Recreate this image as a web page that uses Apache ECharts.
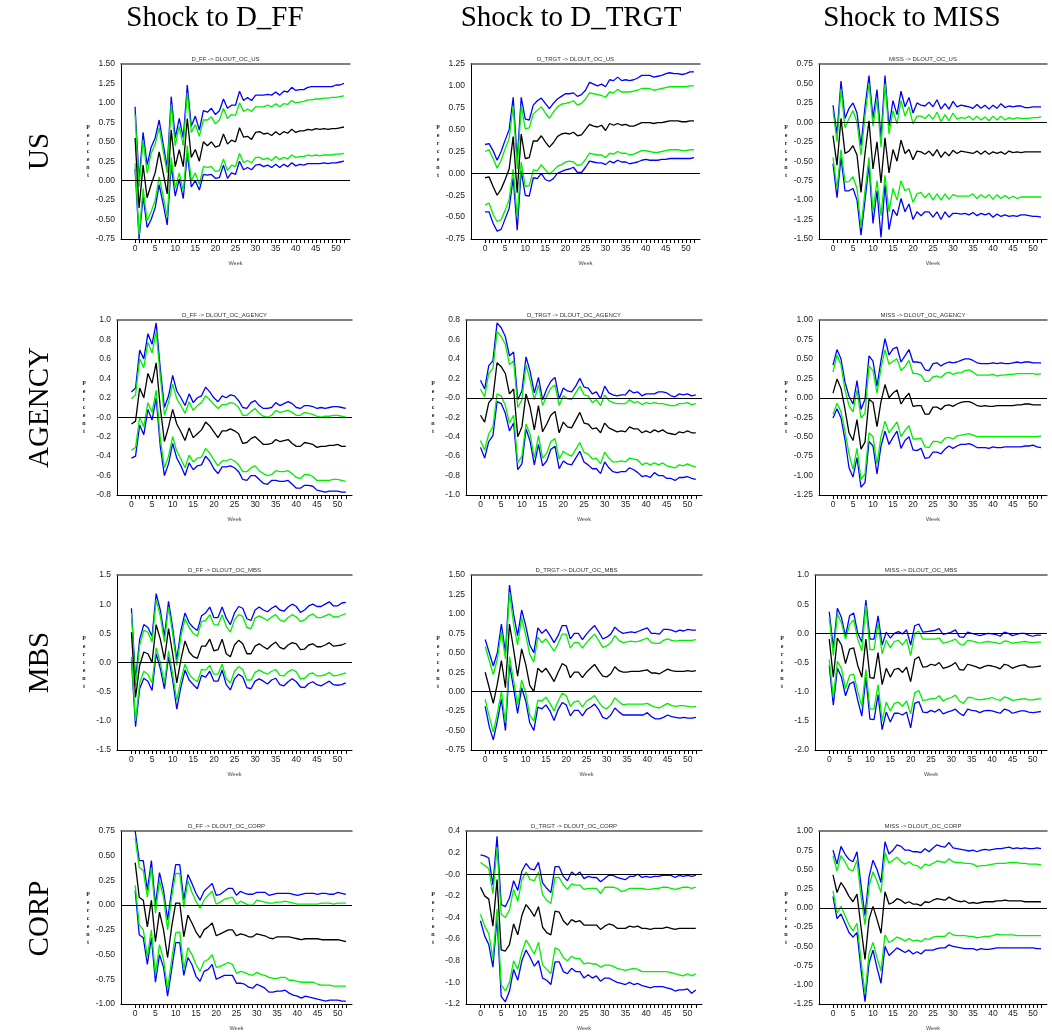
<!DOCTYPE html>
<html><head><meta charset="utf-8">
<script src="https://cdn.jsdelivr.net/npm/echarts@6/dist/echarts.min.js"></script>
<style>html,body{margin:0;padding:0;background:#fff}#c{width:1052px;height:1032px}</style>
</head><body><div id="c"></div>
<script>
const weeks = [0,1,2,3,4,5,6,7,8,9,10,11,12,13,14,15,16,17,18,19,20,21,22,23,24,25,26,27,28,29,30,31,32,33,34,35,36,37,38,39,40,41,42,43,44,45,46,47,48,49,50,51,52];
const xLabelWeeks = [0,5,10,15,20,25,30,35,40,45,50];
const shocks = ['Shock to D_FF','Shock to D_TRGT','Shock to MISS'];
const responses = ['US','AGENCY','MBS','CORP'];
const panelTitles = ['D_FF -> DLOUT_OC_US','D_TRGT -> DLOUT_OC_US','MISS -> DLOUT_OC_US',
 'D_FF -> DLOUT_OC_AGENCY','D_TRGT -> DLOUT_OC_AGENCY','MISS -> DLOUT_OC_AGENCY',
 'D_FF -> DLOUT_OC_MBS','D_TRGT -> DLOUT_OC_MBS','MISS -> DLOUT_OC_MBS',
 'D_FF -> DLOUT_OC_CORP','D_TRGT -> DLOUT_OC_CORP','MISS -> DLOUT_OC_CORP'];
// y-axis ticks: [min, max, step, decimals, zero label]
const yTicks = [[-0.75,1.5,0.25,2,'0.00'],[-0.75,1.25,0.25,2,'0.00'],[-1.5,0.75,0.25,2,'0.00'],
 [-0.8,1.0,0.2,1,'-0.0'],[-1.0,0.8,0.2,1,'-0.0'],[-1.25,1.0,0.25,2,'0.00'],
 [-1.5,1.5,0.5,1,'0.0'],[-0.75,1.5,0.25,2,'0.00'],[-2.0,1.0,0.5,1,'0.0'],
 [-1.0,0.75,0.25,2,'0.00'],[-1.2,0.4,0.2,1,'-0.0'],[-1.25,1.0,0.25,2,'0.00']];

// ---- US / D_FF
const us_ff_mid=[0.55,-0.35,0.2,-0.22,-0.05,0.1,0.37,0.1,-0.17,0.65,0.18,0.4,0.18,0.8,0.3,0.4,0.25,0.5,0.45,0.5,0.43,0.45,0.6,0.47,0.52,0.5,0.68,0.56,0.57,0.53,0.62,0.63,0.6,0.61,0.58,0.63,0.59,0.63,0.61,0.66,0.62,0.64,0.64,0.66,0.65,0.67,0.66,0.67,0.66,0.67,0.67,0.68,0.69];
const us_ff_bhi=[0.95,0.0,0.62,0.2,0.43,0.55,0.78,0.47,0.17,1.08,0.55,0.8,0.55,1.23,0.7,0.83,0.65,0.9,0.88,0.93,0.85,0.9,1.05,0.93,0.97,0.97,1.15,1.03,1.07,1.03,1.1,1.1,1.1,1.11,1.1,1.14,1.1,1.15,1.14,1.2,1.16,1.17,1.17,1.2,1.21,1.21,1.21,1.21,1.21,1.21,1.23,1.23,1.25];
const us_ff_ghi=[0.85,-0.08,0.52,0.1,0.35,0.47,0.68,0.38,0.1,0.98,0.45,0.7,0.45,1.13,0.62,0.72,0.57,0.78,0.78,0.82,0.73,0.78,0.93,0.8,0.85,0.84,1.0,0.89,0.92,0.89,0.95,0.95,0.95,0.97,0.95,0.99,0.95,0.99,0.98,1.03,1.0,1.01,1.02,1.04,1.04,1.05,1.05,1.06,1.06,1.07,1.07,1.08,1.09];
const us_ff_glo=[0.22,-0.7,-0.1,-0.52,-0.4,-0.25,0.05,-0.2,-0.47,0.3,-0.1,0.1,-0.13,0.45,0.0,0.1,-0.05,0.18,0.17,0.18,0.12,0.13,0.28,0.13,0.2,0.18,0.35,0.23,0.26,0.23,0.3,0.3,0.27,0.29,0.26,0.31,0.27,0.3,0.28,0.33,0.3,0.31,0.31,0.33,0.32,0.33,0.32,0.33,0.33,0.33,0.34,0.34,0.35];
const us_ff_blo=[0.15,-0.75,-0.2,-0.6,-0.5,-0.35,-0.05,-0.3,-0.57,0.2,-0.2,0.02,-0.23,0.35,-0.08,0.0,-0.12,0.08,0.07,0.08,0.03,0.04,0.2,0.03,0.1,0.08,0.25,0.14,0.17,0.14,0.2,0.21,0.18,0.2,0.17,0.21,0.17,0.21,0.18,0.23,0.19,0.21,0.2,0.22,0.22,0.22,0.22,0.23,0.22,0.23,0.23,0.24,0.25];
// ---- US / D_TRGT
const us_tr_mid=[-0.05,-0.04,-0.15,-0.25,-0.18,-0.07,0.05,0.42,-0.22,0.45,0.17,0.18,0.37,0.37,0.43,0.36,0.3,0.35,0.42,0.45,0.46,0.45,0.47,0.43,0.44,0.5,0.56,0.54,0.53,0.55,0.49,0.57,0.55,0.57,0.55,0.56,0.54,0.54,0.56,0.58,0.58,0.58,0.57,0.58,0.58,0.59,0.6,0.6,0.6,0.59,0.59,0.6,0.6];
const us_tr_bhi=[0.33,0.34,0.26,0.15,0.25,0.38,0.5,0.87,0.15,0.87,0.62,0.61,0.78,0.83,0.86,0.8,0.74,0.8,0.85,0.88,0.91,0.91,0.92,0.88,0.9,0.95,1.04,1.02,1.0,1.02,0.99,1.07,1.06,1.1,1.06,1.07,1.06,1.07,1.09,1.12,1.12,1.12,1.1,1.11,1.12,1.14,1.15,1.14,1.14,1.13,1.14,1.16,1.16];
const us_tr_ghi=[0.25,0.27,0.17,0.06,0.15,0.28,0.4,0.77,0.05,0.77,0.51,0.52,0.68,0.72,0.76,0.69,0.63,0.7,0.76,0.79,0.8,0.81,0.83,0.78,0.8,0.85,0.92,0.91,0.9,0.89,0.87,0.93,0.92,0.96,0.93,0.93,0.93,0.94,0.95,0.97,0.97,0.97,0.95,0.96,0.97,0.98,0.99,0.99,0.99,0.99,0.99,1.0,1.0];
const us_tr_glo=[-0.36,-0.34,-0.47,-0.55,-0.53,-0.42,-0.3,0.05,-0.5,0.13,-0.15,-0.14,0.04,0.03,0.1,0.04,-0.01,0.03,0.08,0.1,0.13,0.14,0.13,0.09,0.1,0.16,0.23,0.22,0.21,0.21,0.18,0.23,0.22,0.25,0.23,0.23,0.21,0.22,0.24,0.26,0.26,0.25,0.24,0.24,0.25,0.26,0.27,0.27,0.27,0.26,0.26,0.27,0.27];
const us_tr_blo=[-0.44,-0.44,-0.57,-0.66,-0.64,-0.52,-0.4,-0.05,-0.65,0.03,-0.25,-0.26,-0.05,-0.06,0.0,-0.07,-0.09,-0.06,0.0,0.02,0.04,0.05,0.07,0.01,0.01,0.07,0.14,0.13,0.12,0.12,0.1,0.14,0.12,0.15,0.13,0.13,0.11,0.12,0.13,0.15,0.16,0.15,0.15,0.15,0.16,0.16,0.17,0.17,0.17,0.17,0.17,0.17,0.18];
// ---- US / MISS
const us_ms_mid=[-0.17,-0.55,0.05,-0.4,-0.37,-0.3,-0.42,-0.9,-0.4,0.02,-0.6,-0.25,-0.78,-0.2,-0.65,-0.35,-0.5,-0.23,-0.4,-0.35,-0.48,-0.37,-0.38,-0.41,-0.37,-0.43,-0.35,-0.45,-0.38,-0.43,-0.36,-0.4,-0.37,-0.38,-0.39,-0.4,-0.37,-0.41,-0.37,-0.41,-0.38,-0.4,-0.38,-0.41,-0.37,-0.39,-0.38,-0.39,-0.38,-0.38,-0.38,-0.38,-0.38];
const us_ms_bhi=[0.22,-0.15,0.53,0.05,0.18,0.25,0.12,-0.3,0.2,0.6,0.05,0.42,-0.2,0.6,-0.05,0.28,0.1,0.4,0.2,0.32,0.12,0.25,0.22,0.21,0.26,0.2,0.29,0.17,0.24,0.17,0.27,0.2,0.22,0.21,0.2,0.18,0.23,0.18,0.22,0.17,0.22,0.18,0.24,0.19,0.21,0.2,0.21,0.21,0.19,0.19,0.2,0.2,0.2];
const us_ms_ghi=[0.15,-0.25,0.43,-0.07,0.05,0.15,0.0,-0.42,0.08,0.5,-0.05,0.3,-0.32,0.5,-0.15,0.15,-0.02,0.28,0.08,0.2,-0.02,0.08,0.08,0.05,0.1,0.04,0.13,0.01,0.1,0.02,0.12,0.04,0.06,0.05,0.08,0.03,0.08,0.03,0.07,0.02,0.08,0.03,0.08,0.03,0.06,0.04,0.06,0.05,0.05,0.05,0.06,0.06,0.07];
const us_ms_glo=[-0.45,-0.85,-0.35,-0.77,-0.76,-0.7,-0.85,-1.35,-0.88,-0.45,-1.15,-0.75,-1.2,-0.68,-1.15,-0.85,-1.0,-0.75,-0.88,-0.85,-1.03,-0.92,-0.9,-0.97,-0.91,-1.0,-0.92,-1.0,-0.92,-0.99,-0.93,-0.95,-0.95,-0.95,-0.95,-0.92,-0.98,-0.93,-0.97,-0.93,-0.99,-0.93,-0.98,-0.94,-0.98,-0.95,-0.98,-0.96,-0.96,-0.96,-0.96,-0.96,-0.96];
const us_ms_blo=[-0.53,-0.97,-0.45,-0.88,-0.88,-0.85,-1.0,-1.45,-1.0,-0.55,-1.3,-0.88,-1.48,-0.8,-1.38,-1.12,-1.2,-0.98,-1.15,-1.05,-1.25,-1.15,-1.2,-1.15,-1.15,-1.22,-1.15,-1.25,-1.15,-1.22,-1.17,-1.17,-1.18,-1.17,-1.19,-1.16,-1.2,-1.17,-1.19,-1.17,-1.22,-1.18,-1.21,-1.19,-1.21,-1.2,-1.21,-1.19,-1.19,-1.2,-1.21,-1.21,-1.22];
// ---- AGENCY / D_FF
const ag_ff_mid=[-0.07,-0.04,0.3,0.2,0.45,0.35,0.56,0.1,-0.25,-0.1,0.08,-0.07,-0.15,-0.24,-0.11,-0.21,-0.17,-0.13,-0.05,-0.09,-0.15,-0.21,-0.14,-0.14,-0.12,-0.14,-0.17,-0.27,-0.26,-0.22,-0.2,-0.24,-0.28,-0.28,-0.27,-0.23,-0.25,-0.24,-0.23,-0.27,-0.3,-0.3,-0.26,-0.27,-0.28,-0.31,-0.3,-0.3,-0.29,-0.29,-0.28,-0.3,-0.3];
const ag_ff_bhi=[0.26,0.3,0.69,0.6,0.86,0.75,0.97,0.5,0.1,0.22,0.43,0.27,0.2,0.12,0.24,0.15,0.2,0.22,0.31,0.26,0.2,0.16,0.22,0.2,0.23,0.22,0.17,0.1,0.09,0.15,0.17,0.12,0.09,0.09,0.1,0.15,0.12,0.14,0.16,0.14,0.1,0.09,0.12,0.12,0.11,0.09,0.1,0.09,0.1,0.11,0.11,0.1,0.09];
const ag_ff_ghi=[0.19,0.23,0.6,0.51,0.77,0.66,0.88,0.42,0.02,0.15,0.34,0.19,0.12,0.04,0.16,0.07,0.12,0.15,0.22,0.18,0.13,0.09,0.13,0.13,0.15,0.14,0.1,0.02,0.02,0.06,0.09,0.04,0.01,0.0,0.02,0.07,0.05,0.06,0.07,0.05,0.02,0.02,0.05,0.04,0.03,0.01,0.0,0.01,0.01,0.02,0.02,0.01,0.0];
const ag_ff_glo=[-0.34,-0.31,0.0,-0.1,0.15,0.05,0.28,-0.22,-0.52,-0.4,-0.2,-0.35,-0.43,-0.52,-0.39,-0.46,-0.42,-0.41,-0.32,-0.37,-0.44,-0.5,-0.45,-0.45,-0.43,-0.45,-0.49,-0.56,-0.56,-0.52,-0.5,-0.55,-0.58,-0.6,-0.59,-0.55,-0.56,-0.56,-0.55,-0.58,-0.62,-0.63,-0.59,-0.59,-0.61,-0.65,-0.65,-0.65,-0.65,-0.64,-0.64,-0.65,-0.66];
const ag_ff_blo=[-0.42,-0.4,-0.08,-0.18,0.08,-0.03,0.2,-0.3,-0.6,-0.48,-0.27,-0.42,-0.5,-0.6,-0.47,-0.54,-0.5,-0.49,-0.4,-0.45,-0.53,-0.58,-0.51,-0.51,-0.5,-0.52,-0.56,-0.64,-0.65,-0.6,-0.6,-0.64,-0.68,-0.69,-0.65,-0.65,-0.66,-0.66,-0.65,-0.69,-0.73,-0.73,-0.7,-0.7,-0.71,-0.75,-0.76,-0.77,-0.76,-0.76,-0.76,-0.77,-0.77];
// ---- AGENCY / D_TRGT
const ag_tr_mid=[-0.18,-0.25,-0.05,0.0,0.36,0.32,0.25,0.04,0.09,-0.4,-0.3,0.04,-0.1,-0.33,-0.08,-0.35,-0.27,-0.18,-0.14,-0.36,-0.25,-0.3,-0.31,-0.23,-0.15,-0.26,-0.27,-0.32,-0.31,-0.36,-0.26,-0.31,-0.33,-0.35,-0.34,-0.35,-0.3,-0.32,-0.32,-0.36,-0.34,-0.36,-0.33,-0.35,-0.33,-0.36,-0.37,-0.38,-0.35,-0.36,-0.34,-0.36,-0.36];
const ag_tr_bhi=[0.18,0.09,0.33,0.38,0.77,0.72,0.63,0.43,0.47,-0.02,0.07,0.42,0.27,0.05,0.21,-0.02,0.09,0.17,0.21,-0.01,0.1,0.07,0.06,0.12,0.2,0.11,0.1,0.04,0.06,-0.01,0.12,0.05,0.03,0.02,0.03,0.03,0.08,0.05,0.06,0.02,0.04,0.04,0.04,0.06,0.06,0.05,0.02,0.01,0.04,0.03,0.04,0.02,0.03];
const ag_tr_ghi=[0.09,0.01,0.25,0.3,0.68,0.63,0.55,0.34,0.38,-0.1,-0.02,0.34,0.18,-0.02,0.13,-0.08,0.02,0.1,0.13,-0.08,0.02,-0.01,-0.02,0.05,0.12,0.03,0.02,-0.05,-0.02,-0.08,0.03,-0.03,-0.05,-0.06,-0.06,-0.06,-0.02,-0.05,-0.04,-0.07,-0.05,-0.06,-0.05,-0.06,-0.06,-0.07,-0.08,-0.08,-0.06,-0.06,-0.05,-0.07,-0.06];
const ag_tr_glo=[-0.44,-0.54,-0.37,-0.3,0.04,0.02,-0.08,-0.26,-0.18,-0.67,-0.6,-0.27,-0.38,-0.62,-0.39,-0.62,-0.57,-0.45,-0.42,-0.63,-0.55,-0.58,-0.6,-0.53,-0.46,-0.56,-0.58,-0.63,-0.62,-0.68,-0.56,-0.62,-0.66,-0.66,-0.65,-0.66,-0.62,-0.63,-0.64,-0.69,-0.67,-0.69,-0.67,-0.69,-0.67,-0.7,-0.71,-0.72,-0.69,-0.7,-0.68,-0.7,-0.71];
const ag_tr_blo=[-0.51,-0.62,-0.45,-0.39,-0.04,-0.06,-0.16,-0.34,-0.26,-0.74,-0.68,-0.32,-0.45,-0.69,-0.48,-0.7,-0.65,-0.53,-0.5,-0.73,-0.65,-0.68,-0.69,-0.62,-0.55,-0.66,-0.69,-0.73,-0.73,-0.78,-0.66,-0.72,-0.76,-0.77,-0.76,-0.76,-0.72,-0.74,-0.77,-0.81,-0.8,-0.82,-0.77,-0.8,-0.8,-0.83,-0.83,-0.85,-0.82,-0.82,-0.81,-0.83,-0.84];
// ---- AGENCY / MISS
const ag_ms_mid=[0.06,0.24,0.12,-0.15,-0.45,-0.55,-0.28,-0.66,-0.57,-0.02,-0.06,-0.37,-0.05,0.17,0.0,0.06,0.1,-0.08,0.0,0.06,-0.11,-0.1,-0.1,-0.21,-0.21,-0.12,-0.12,-0.15,-0.1,-0.09,-0.11,-0.08,-0.06,-0.05,-0.05,-0.07,-0.1,-0.11,-0.1,-0.11,-0.11,-0.1,-0.1,-0.1,-0.1,-0.1,-0.09,-0.09,-0.08,-0.08,-0.09,-0.09,-0.09];
const ag_ms_bhi=[0.42,0.62,0.5,0.2,0.02,-0.08,0.22,-0.15,-0.02,0.54,0.47,0.15,0.48,0.76,0.55,0.63,0.65,0.46,0.54,0.62,0.46,0.46,0.45,0.36,0.35,0.44,0.45,0.41,0.44,0.46,0.45,0.46,0.48,0.5,0.5,0.48,0.45,0.44,0.44,0.44,0.45,0.44,0.45,0.44,0.44,0.45,0.46,0.45,0.46,0.46,0.45,0.45,0.45];
const ag_ms_ghi=[0.33,0.55,0.42,0.1,-0.1,-0.18,0.1,-0.26,-0.2,0.41,0.35,0.06,0.38,0.62,0.43,0.47,0.5,0.35,0.4,0.48,0.31,0.31,0.29,0.21,0.21,0.27,0.28,0.26,0.31,0.33,0.3,0.32,0.32,0.35,0.36,0.33,0.29,0.29,0.29,0.29,0.3,0.28,0.29,0.29,0.3,0.3,0.31,0.31,0.31,0.31,0.31,0.3,0.31];
const ag_ms_glo=[-0.21,-0.07,-0.18,-0.43,-0.72,-0.92,-0.65,-1.05,-0.98,-0.45,-0.5,-0.85,-0.5,-0.3,-0.45,-0.38,-0.31,-0.5,-0.42,-0.36,-0.53,-0.53,-0.52,-0.63,-0.64,-0.56,-0.56,-0.58,-0.52,-0.51,-0.53,-0.49,-0.48,-0.47,-0.46,-0.48,-0.5,-0.5,-0.5,-0.5,-0.5,-0.5,-0.5,-0.5,-0.5,-0.5,-0.5,-0.5,-0.5,-0.5,-0.5,-0.5,-0.49];
const ag_ms_blo=[-0.26,-0.14,-0.26,-0.54,-0.9,-1.02,-0.77,-1.15,-1.09,-0.56,-0.62,-0.98,-0.62,-0.43,-0.6,-0.51,-0.43,-0.65,-0.55,-0.5,-0.67,-0.68,-0.65,-0.78,-0.77,-0.7,-0.7,-0.72,-0.66,-0.62,-0.65,-0.62,-0.6,-0.6,-0.59,-0.61,-0.64,-0.64,-0.64,-0.65,-0.63,-0.64,-0.64,-0.63,-0.63,-0.63,-0.63,-0.63,-0.62,-0.62,-0.61,-0.63,-0.64];
// ---- MBS / D_FF
const mb_ff_mid=[0.52,-0.6,-0.05,0.18,0.15,0.0,0.65,0.4,0.05,0.58,0.15,-0.35,0.05,0.37,0.18,0.1,0.07,0.28,0.28,0.4,0.2,0.22,0.4,0.15,0.1,0.3,0.38,0.32,0.15,0.15,0.28,0.32,0.27,0.23,0.3,0.35,0.26,0.23,0.3,0.34,0.32,0.22,0.23,0.3,0.32,0.27,0.27,0.3,0.34,0.28,0.29,0.3,0.33];
const mb_ff_bhi=[0.93,-0.3,0.4,0.65,0.6,0.45,1.18,0.9,0.45,1.05,0.6,0.05,0.55,0.85,0.68,0.6,0.55,0.8,0.85,0.95,0.77,0.77,0.95,0.76,0.65,0.85,0.96,0.93,0.75,0.72,0.9,0.95,0.9,0.87,0.93,0.97,0.9,0.88,0.95,1.0,0.96,0.86,0.9,0.97,1.0,0.96,0.96,1.0,1.04,0.97,0.97,1.02,1.03];
const mb_ff_ghi=[0.85,-0.4,0.3,0.55,0.52,0.35,1.07,0.8,0.35,0.95,0.5,-0.05,0.45,0.75,0.6,0.5,0.45,0.7,0.72,0.82,0.65,0.64,0.82,0.62,0.52,0.73,0.82,0.79,0.6,0.58,0.76,0.8,0.76,0.72,0.78,0.82,0.73,0.7,0.77,0.82,0.78,0.7,0.73,0.8,0.83,0.77,0.77,0.8,0.83,0.78,0.78,0.81,0.84];
const mb_ff_glo=[0.1,-1.0,-0.35,-0.15,-0.2,-0.35,0.25,0.0,-0.35,0.2,-0.2,-0.65,-0.3,-0.03,-0.2,-0.28,-0.33,-0.12,-0.13,-0.05,-0.2,-0.2,-0.03,-0.28,-0.35,-0.15,-0.07,-0.12,-0.3,-0.3,-0.17,-0.13,-0.17,-0.2,-0.15,-0.12,-0.22,-0.23,-0.16,-0.12,-0.16,-0.28,-0.27,-0.2,-0.18,-0.23,-0.23,-0.21,-0.17,-0.23,-0.22,-0.2,-0.18];
const mb_ff_blo=[0.05,-1.1,-0.45,-0.27,-0.32,-0.48,0.15,-0.1,-0.45,0.1,-0.3,-0.8,-0.42,-0.13,-0.3,-0.38,-0.45,-0.22,-0.25,-0.15,-0.32,-0.32,-0.13,-0.38,-0.47,-0.28,-0.2,-0.25,-0.43,-0.45,-0.32,-0.28,-0.32,-0.37,-0.3,-0.27,-0.38,-0.4,-0.33,-0.28,-0.33,-0.42,-0.43,-0.36,-0.33,-0.38,-0.4,-0.36,-0.32,-0.38,-0.39,-0.38,-0.35];
// ---- MBS / D_TRGT
const mb_tr_mid=[0.25,0.05,-0.15,0.1,0.4,0.05,0.87,0.55,0.2,0.55,0.35,0.08,0.0,0.3,0.25,0.3,0.22,0.13,0.25,0.36,0.33,0.18,0.25,0.25,0.18,0.25,0.3,0.35,0.27,0.2,0.19,0.23,0.32,0.27,0.25,0.25,0.26,0.26,0.26,0.27,0.28,0.24,0.24,0.23,0.26,0.29,0.27,0.26,0.26,0.26,0.27,0.26,0.27];
const mb_tr_bhi=[0.67,0.5,0.33,0.5,0.87,0.5,1.37,1.0,0.72,1.05,0.85,0.6,0.5,0.82,0.75,0.8,0.72,0.63,0.72,0.85,0.85,0.68,0.75,0.75,0.67,0.74,0.8,0.85,0.77,0.68,0.7,0.74,0.83,0.78,0.75,0.76,0.77,0.76,0.78,0.8,0.82,0.75,0.75,0.74,0.8,0.8,0.79,0.77,0.79,0.78,0.8,0.79,0.79];
const mb_tr_ghi=[0.58,0.4,0.22,0.42,0.77,0.42,1.28,0.87,0.6,0.95,0.73,0.48,0.38,0.7,0.63,0.68,0.6,0.52,0.62,0.74,0.74,0.56,0.63,0.63,0.56,0.63,0.69,0.74,0.66,0.57,0.59,0.63,0.72,0.66,0.63,0.64,0.65,0.64,0.65,0.67,0.69,0.63,0.62,0.62,0.66,0.68,0.66,0.65,0.66,0.66,0.66,0.66,0.67];
const mb_tr_glo=[-0.1,-0.32,-0.52,-0.28,0.0,-0.4,0.45,0.15,-0.17,0.15,-0.02,-0.3,-0.38,-0.11,-0.12,-0.07,-0.15,-0.25,-0.12,-0.02,-0.05,-0.19,-0.13,-0.12,-0.2,-0.12,-0.09,-0.05,-0.13,-0.2,-0.22,-0.17,-0.08,-0.13,-0.17,-0.16,-0.16,-0.16,-0.16,-0.16,-0.15,-0.18,-0.2,-0.21,-0.18,-0.15,-0.18,-0.19,-0.18,-0.18,-0.19,-0.2,-0.19];
const mb_tr_blo=[-0.19,-0.45,-0.62,-0.38,-0.1,-0.5,0.35,0.05,-0.28,0.05,-0.12,-0.4,-0.5,-0.2,-0.22,-0.17,-0.25,-0.37,-0.23,-0.14,-0.17,-0.31,-0.24,-0.24,-0.31,-0.23,-0.2,-0.16,-0.23,-0.33,-0.35,-0.3,-0.21,-0.26,-0.3,-0.3,-0.3,-0.3,-0.3,-0.3,-0.27,-0.32,-0.35,-0.35,-0.33,-0.3,-0.32,-0.33,-0.34,-0.33,-0.34,-0.34,-0.33];
// ---- MBS / MISS
const mb_ms_mid=[-0.1,-0.75,-0.08,-0.2,-0.52,-0.27,-0.25,-0.55,-0.75,-0.1,-0.76,-0.77,-0.33,-0.88,-0.6,-0.75,-0.62,-0.6,-0.67,-0.58,-0.83,-0.45,-0.4,-0.58,-0.57,-0.53,-0.55,-0.5,-0.6,-0.58,-0.55,-0.5,-0.62,-0.63,-0.53,-0.55,-0.57,-0.6,-0.57,-0.55,-0.56,-0.58,-0.61,-0.53,-0.55,-0.6,-0.57,-0.55,-0.54,-0.58,-0.58,-0.57,-0.56];
const mb_ms_bhi=[0.37,-0.25,0.43,0.27,-0.05,0.3,0.35,0.0,-0.15,0.57,-0.1,-0.1,0.3,-0.2,0.02,-0.08,0.0,0.03,-0.01,0.06,-0.2,0.13,0.16,0.02,0.03,0.04,0.05,0.08,-0.02,0.0,0.02,0.06,-0.06,-0.07,0.02,0.0,-0.02,-0.04,-0.02,0.0,-0.01,-0.02,-0.05,0.02,0.0,-0.04,-0.02,0.0,0.0,-0.03,-0.05,-0.03,-0.03];
const mb_ms_ghi=[0.27,-0.38,0.33,0.18,-0.1,0.15,0.23,-0.1,-0.3,0.48,-0.28,-0.28,0.17,-0.35,-0.12,-0.25,-0.14,-0.12,-0.2,-0.1,-0.38,0.0,0.04,-0.1,-0.1,-0.1,-0.1,-0.08,-0.17,-0.15,-0.13,-0.1,-0.18,-0.2,-0.12,-0.13,-0.15,-0.17,-0.15,-0.14,-0.15,-0.16,-0.18,-0.13,-0.14,-0.17,-0.16,-0.15,-0.14,-0.15,-0.16,-0.15,-0.15];
const mb_ms_glo=[-0.45,-1.1,-0.48,-0.6,-0.95,-0.72,-0.7,-1.0,-1.25,-0.62,-1.3,-1.3,-0.88,-1.5,-1.18,-1.33,-1.2,-1.18,-1.25,-1.16,-1.38,-1.02,-0.98,-1.15,-1.14,-1.12,-1.12,-1.07,-1.16,-1.12,-1.1,-1.06,-1.16,-1.2,-1.1,-1.1,-1.13,-1.14,-1.13,-1.12,-1.1,-1.13,-1.15,-1.09,-1.11,-1.15,-1.14,-1.13,-1.12,-1.14,-1.14,-1.13,-1.12];
const mb_ms_blo=[-0.55,-1.23,-0.6,-0.75,-1.07,-0.87,-0.83,-1.15,-1.42,-0.75,-1.47,-1.48,-1.05,-1.65,-1.35,-1.52,-1.37,-1.37,-1.4,-1.35,-1.62,-1.2,-1.17,-1.35,-1.36,-1.32,-1.35,-1.3,-1.38,-1.35,-1.33,-1.3,-1.37,-1.41,-1.3,-1.32,-1.33,-1.36,-1.33,-1.32,-1.33,-1.35,-1.37,-1.3,-1.32,-1.37,-1.35,-1.33,-1.33,-1.35,-1.36,-1.35,-1.34];
// ---- CORP / D_FF
const co_ff_mid=[0.43,0.08,0.05,-0.22,0.05,-0.37,-0.07,-0.25,-0.53,-0.22,0.02,0.02,-0.32,-0.1,-0.18,-0.27,-0.33,-0.25,-0.22,-0.18,-0.31,-0.29,-0.27,-0.25,-0.25,-0.31,-0.29,-0.3,-0.32,-0.32,-0.29,-0.3,-0.31,-0.33,-0.34,-0.32,-0.32,-0.32,-0.32,-0.33,-0.34,-0.35,-0.34,-0.34,-0.34,-0.34,-0.35,-0.35,-0.35,-0.35,-0.35,-0.36,-0.37];
const co_ff_bhi=[0.75,0.45,0.45,0.15,0.45,0.0,0.33,0.15,-0.15,0.15,0.41,0.41,0.05,0.31,0.22,0.12,0.05,0.14,0.18,0.22,0.1,0.11,0.14,0.17,0.17,0.1,0.14,0.12,0.11,0.11,0.13,0.13,0.13,0.1,0.11,0.12,0.12,0.12,0.12,0.11,0.1,0.11,0.12,0.12,0.12,0.11,0.12,0.12,0.11,0.11,0.13,0.12,0.11];
const co_ff_ghi=[0.68,0.38,0.35,0.08,0.38,-0.08,0.25,0.08,-0.25,0.08,0.32,0.32,-0.02,0.25,0.13,0.04,-0.03,0.05,0.1,0.14,0.01,0.03,0.06,0.07,0.08,0.01,0.04,0.02,0.0,0.0,0.05,0.04,0.03,0.02,0.02,0.03,0.03,0.04,0.03,0.02,0.01,0.01,0.01,0.01,0.01,0.01,0.02,0.02,0.02,0.01,0.02,0.02,0.02];
const co_ff_glo=[0.2,-0.2,-0.25,-0.52,-0.25,-0.7,-0.4,-0.55,-0.85,-0.55,-0.28,-0.27,-0.65,-0.43,-0.5,-0.6,-0.67,-0.57,-0.55,-0.5,-0.63,-0.62,-0.6,-0.58,-0.6,-0.69,-0.67,-0.68,-0.7,-0.71,-0.68,-0.7,-0.71,-0.73,-0.74,-0.74,-0.73,-0.73,-0.76,-0.76,-0.77,-0.78,-0.78,-0.78,-0.78,-0.8,-0.81,-0.81,-0.81,-0.82,-0.82,-0.82,-0.82];
const co_ff_blo=[0.15,-0.3,-0.33,-0.6,-0.33,-0.78,-0.5,-0.63,-0.92,-0.65,-0.38,-0.38,-0.71,-0.53,-0.6,-0.72,-0.77,-0.67,-0.65,-0.6,-0.75,-0.73,-0.71,-0.71,-0.71,-0.79,-0.79,-0.8,-0.83,-0.84,-0.8,-0.82,-0.84,-0.88,-0.88,-0.87,-0.87,-0.86,-0.89,-0.91,-0.92,-0.94,-0.92,-0.93,-0.94,-0.95,-0.96,-0.97,-0.96,-0.96,-0.96,-0.97,-0.97];
// ---- CORP / D_TRGT
const co_tr_mid=[-0.12,-0.2,-0.23,-0.48,-0.05,-0.7,-0.71,-0.65,-0.46,-0.56,-0.38,-0.28,-0.33,-0.39,-0.3,-0.49,-0.54,-0.56,-0.34,-0.35,-0.43,-0.47,-0.42,-0.44,-0.43,-0.47,-0.47,-0.47,-0.47,-0.51,-0.48,-0.46,-0.47,-0.5,-0.5,-0.5,-0.48,-0.49,-0.48,-0.5,-0.5,-0.51,-0.5,-0.5,-0.5,-0.49,-0.5,-0.51,-0.5,-0.5,-0.5,-0.5,-0.5];
const co_tr_bhi=[0.18,0.17,0.15,-0.1,0.35,-0.28,-0.3,-0.22,-0.06,-0.15,0.03,0.1,0.05,0.04,0.11,-0.08,-0.13,-0.17,0.07,0.07,-0.02,-0.06,0.02,-0.01,0.02,-0.04,-0.02,-0.03,-0.03,-0.07,-0.04,-0.01,-0.01,-0.03,-0.04,-0.05,-0.02,-0.02,0.0,-0.03,-0.02,-0.03,-0.02,-0.02,-0.01,-0.01,-0.01,-0.03,-0.01,-0.02,-0.01,-0.02,-0.01];
const co_tr_ghi=[0.11,0.08,0.05,-0.18,0.25,-0.37,-0.4,-0.33,-0.14,-0.25,-0.05,0.02,-0.05,-0.06,0.02,-0.19,-0.24,-0.27,-0.03,-0.03,-0.1,-0.14,-0.09,-0.1,-0.1,-0.14,-0.13,-0.13,-0.13,-0.18,-0.12,-0.12,-0.12,-0.13,-0.16,-0.15,-0.13,-0.13,-0.13,-0.13,-0.14,-0.14,-0.13,-0.13,-0.12,-0.12,-0.13,-0.14,-0.13,-0.12,-0.12,-0.13,-0.12];
const co_tr_glo=[-0.37,-0.48,-0.55,-0.78,-0.32,-1.02,-1.08,-1.0,-0.8,-0.88,-0.72,-0.61,-0.67,-0.74,-0.63,-0.84,-0.88,-0.92,-0.68,-0.7,-0.77,-0.8,-0.76,-0.78,-0.78,-0.83,-0.82,-0.83,-0.83,-0.86,-0.84,-0.84,-0.85,-0.87,-0.88,-0.89,-0.88,-0.87,-0.88,-0.9,-0.9,-0.9,-0.9,-0.9,-0.9,-0.9,-0.91,-0.92,-0.93,-0.94,-0.92,-0.94,-0.92];
const co_tr_blo=[-0.43,-0.57,-0.65,-0.86,-0.4,-1.13,-1.18,-1.08,-0.88,-0.98,-0.8,-0.7,-0.77,-0.85,-0.8,-0.96,-0.98,-1.02,-0.81,-0.81,-0.9,-0.92,-0.87,-0.9,-0.9,-0.96,-0.93,-0.96,-0.94,-0.99,-0.96,-0.96,-0.98,-1.0,-1.01,-1.02,-1.0,-1.02,-1.01,-1.03,-1.04,-1.05,-1.04,-1.04,-1.04,-1.05,-1.06,-1.08,-1.07,-1.07,-1.06,-1.1,-1.07];
// ---- CORP / MISS
const co_ms_mid=[0.43,0.2,0.33,0.25,0.15,0.08,0.18,-0.25,-0.67,-0.15,0.02,-0.15,-0.33,0.21,0.05,0.07,0.12,0.1,0.06,0.08,0.05,0.05,0.03,0.08,0.07,0.1,0.12,0.11,0.1,0.14,0.11,0.09,0.08,0.09,0.06,0.07,0.06,0.07,0.08,0.08,0.08,0.09,0.09,0.1,0.09,0.09,0.09,0.09,0.08,0.08,0.08,0.08,0.08];
const co_ms_bhi=[0.75,0.57,0.8,0.7,0.63,0.6,0.73,0.3,-0.1,0.4,0.62,0.5,0.33,0.86,0.7,0.75,0.82,0.8,0.75,0.75,0.73,0.73,0.72,0.77,0.73,0.78,0.82,0.8,0.79,0.85,0.78,0.77,0.76,0.75,0.74,0.75,0.73,0.75,0.76,0.75,0.76,0.77,0.77,0.78,0.79,0.77,0.78,0.77,0.78,0.77,0.77,0.78,0.77];
const co_ms_ghi=[0.68,0.48,0.68,0.6,0.5,0.48,0.62,0.15,-0.22,0.28,0.47,0.35,0.2,0.72,0.58,0.62,0.66,0.6,0.57,0.6,0.56,0.55,0.51,0.57,0.55,0.58,0.61,0.6,0.59,0.64,0.6,0.59,0.59,0.58,0.58,0.57,0.54,0.55,0.55,0.56,0.57,0.58,0.58,0.58,0.59,0.59,0.59,0.58,0.58,0.57,0.57,0.57,0.56];
const co_ms_glo=[0.22,-0.07,0.02,-0.1,-0.22,-0.3,-0.2,-0.68,-1.12,-0.6,-0.45,-0.65,-0.82,-0.35,-0.45,-0.42,-0.38,-0.4,-0.43,-0.4,-0.43,-0.42,-0.44,-0.4,-0.41,-0.38,-0.37,-0.37,-0.37,-0.32,-0.35,-0.36,-0.36,-0.36,-0.37,-0.37,-0.39,-0.38,-0.37,-0.37,-0.36,-0.34,-0.35,-0.35,-0.35,-0.35,-0.36,-0.36,-0.36,-0.36,-0.36,-0.36,-0.36];
const co_ms_blo=[0.15,-0.14,-0.08,-0.2,-0.32,-0.38,-0.32,-0.8,-1.22,-0.72,-0.55,-0.78,-0.98,-0.5,-0.62,-0.57,-0.52,-0.55,-0.58,-0.55,-0.6,-0.57,-0.6,-0.55,-0.55,-0.55,-0.53,-0.52,-0.52,-0.48,-0.5,-0.51,-0.52,-0.53,-0.53,-0.53,-0.55,-0.53,-0.54,-0.54,-0.53,-0.52,-0.52,-0.52,-0.52,-0.52,-0.52,-0.52,-0.52,-0.52,-0.52,-0.53,-0.53];

const panelData = [
 [us_ff_mid,us_ff_ghi,us_ff_glo,us_ff_bhi,us_ff_blo],[us_tr_mid,us_tr_ghi,us_tr_glo,us_tr_bhi,us_tr_blo],[us_ms_mid,us_ms_ghi,us_ms_glo,us_ms_bhi,us_ms_blo],
 [ag_ff_mid,ag_ff_ghi,ag_ff_glo,ag_ff_bhi,ag_ff_blo],[ag_tr_mid,ag_tr_ghi,ag_tr_glo,ag_tr_bhi,ag_tr_blo],[ag_ms_mid,ag_ms_ghi,ag_ms_glo,ag_ms_bhi,ag_ms_blo],
 [mb_ff_mid,mb_ff_ghi,mb_ff_glo,mb_ff_bhi,mb_ff_blo],[mb_tr_mid,mb_tr_ghi,mb_tr_glo,mb_tr_bhi,mb_tr_blo],[mb_ms_mid,mb_ms_ghi,mb_ms_glo,mb_ms_bhi,mb_ms_blo],
 [co_ff_mid,co_ff_ghi,co_ff_glo,co_ff_bhi,co_ff_blo],[co_tr_mid,co_tr_ghi,co_tr_glo,co_tr_bhi,co_tr_blo],[co_ms_mid,co_ms_ghi,co_ms_glo,co_ms_bhi,co_ms_blo]];

// ---- layout (pixels)
const rowTop = [64, 320, 575, 831];
const plotH = 175;
const panelLeft = [121,471,819, 117,466,819, 117,471,815, 121,466,819];
const panelRight = [350,700,1047, 352,702,1047, 352,702,1047, 352,702,1047];
const colTitleX = [215, 571, 912];

const grids=[], xAxes=[], yAxes=[], series=[], graphics=[];
const lbl = {fontFamily:'Liberation Sans, Arial, sans-serif', color:'#222'};
for (let p=0;p<12;p++){
  const r=Math.floor(p/3), c=p%3;
  const L=panelLeft[p], R=panelRight[p], T=rowTop[r];
  grids.push({left:L, top:T, width:R-L, height:plotH, containLabel:false});
  xAxes.push({type:'value', gridIndex:p, min:-3.5, max:53.5, position:'bottom',
    axisLine:{show:true, onZero:false, lineStyle:{color:'#000', width:1}},
    axisTick:{show:true, customValues:weeks, length:4, lineStyle:{color:'#000', width:1}},
    axisLabel:{customValues:xLabelWeeks, fontSize:8.5, margin:5, ...lbl},
    splitLine:{show:false},
    name:'Week', nameLocation:'middle', nameGap:21, nameTextStyle:{fontSize:5.5, color:'#444', fontFamily:'Liberation Sans, Arial, sans-serif'}});
  xAxes.push({type:'value', gridIndex:p, min:-3.5, max:53.5, position:'top',
    axisLine:{show:true, onZero:false, lineStyle:{color:'#555', width:1.5}},
    axisTick:{show:false}, axisLabel:{show:false}, splitLine:{show:false}});
  const yt = yTicks[p];
  yAxes.push({type:'value', gridIndex:p, min:yt[0], max:yt[1], interval:yt[2],
    axisLine:{show:true, onZero:false, lineStyle:{color:'#000', width:1}},
    axisTick:{show:false}, splitLine:{show:false},
    axisLabel:{fontSize:8.5, margin:6, ...lbl, showMinLabel:true, showMaxLabel:true,
      formatter:(v)=> Math.abs(v)<1e-9 ? yt[4] : v.toFixed(yt[3])}});
  const d = panelData[p];
  const mk = (arr, color, z, zero) => {
    const s = {type:'line', xAxisIndex:2*p, yAxisIndex:p, data:weeks.map((w,i)=>[w,arr[i]]),
      showSymbol:false, symbol:'none', lineStyle:{color, width:1.3}, z, animation:false, silent:true};
    if (zero) s.markLine = {silent:true, symbol:['none','none'], label:{show:false},
      lineStyle:{color:'#000', width:1.2, type:'solid'}, data:[{yAxis:0}], animation:false};
    return s;
  };
  series.push(mk(d[3],'#0000ff',2,true), mk(d[4],'#0000ff',2,false),
              mk(d[1],'#00ee00',3,false), mk(d[2],'#00ee00',3,false),
              mk(d[0],'#000000',4,false));
  graphics.push({type:'text', x:(L+R)/2-10, y:T-5, style:{text:panelTitles[p], fontSize:6, fill:'#333', fontFamily:'Liberation Sans, Arial, sans-serif', align:'center', verticalAlign:'middle'}, z:10});
  graphics.push({type:'text', x:L-33, y:T+plotH/2-28, style:{text:'P\ne\nr\nc\ne\nn\nt', fontSize:6, fontWeight:'bold', lineHeight:8, fill:'#222', fontFamily:'Liberation Serif, serif', align:'center'}, z:10});
}
for (let c=0;c<3;c++){
  graphics.push({type:'text', x:colTitleX[c], y:18, style:{text:shocks[c], fontSize:29, fill:'#000', fontFamily:'Liberation Serif, DejaVu Serif, serif', align:'center', verticalAlign:'middle'}});
}
for (let r=0;r<4;r++){
  graphics.push({type:'text', x:40, y:rowTop[r]+plotH/2, rotation:Math.PI/2, style:{text:responses[r], fontSize:29, fill:'#000', fontFamily:'Liberation Serif, DejaVu Serif, serif', align:'center', verticalAlign:'middle'}});
}

const chart = echarts.init(document.getElementById('c'), null, {renderer:'canvas'});
chart.setOption({backgroundColor:'#fff', animation:false, grid:grids, xAxis:xAxes, yAxis:yAxes, series, graphic:graphics});
</script></body></html>
